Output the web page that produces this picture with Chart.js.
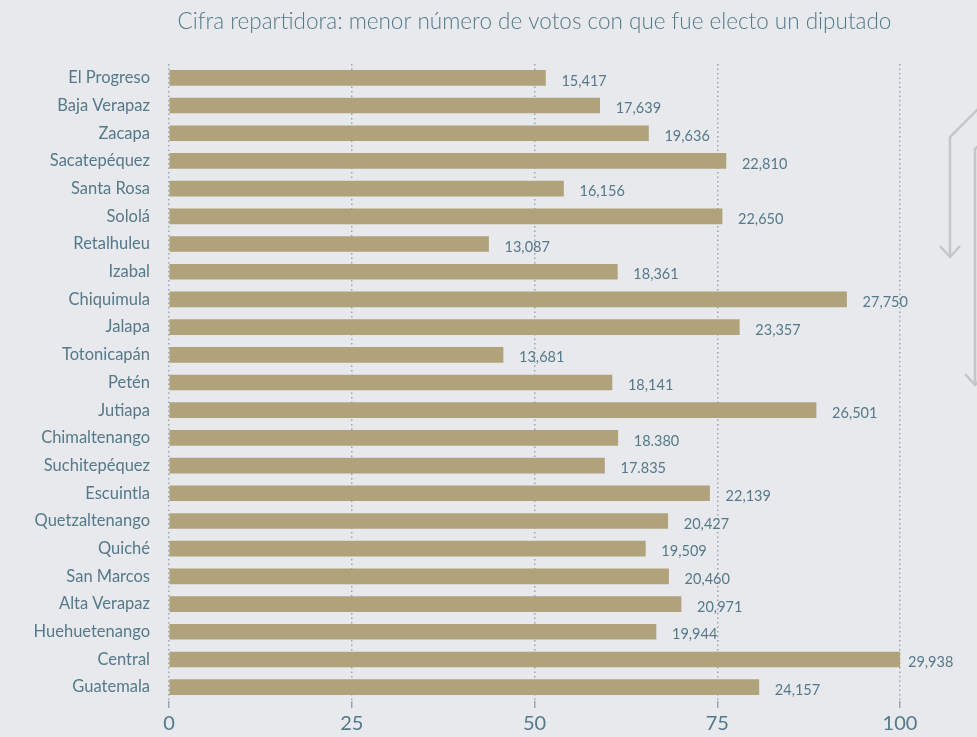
<!DOCTYPE html>
<html>
<head>
<meta charset="utf-8">
<script src="https://cdn.jsdelivr.net/npm/chart.js@4"></script>
<style>
  html, body { margin: 0; padding: 0; background: #e7e9ed; }
  #wrap { width: 977px; height: 737px; position: relative; }
</style>
</head>
<body>
<div id="wrap"><canvas id="barCanvas"></canvas></div>
<script>
const departamentos = [
  'El Progreso', 'Baja Verapaz', 'Zacapa', 'Sacatepéquez', 'Santa Rosa', 'Sololá',
  'Retalhuleu', 'Izabal', 'Chiquimula', 'Jalapa', 'Totonicapán', 'Petén', 'Jutiapa',
  'Chimaltenango', 'Suchitepéquez', 'Escuintla', 'Quetzaltenango', 'Quiché',
  'San Marcos', 'Alta Verapaz', 'Huehuetenango', 'Central', 'Guatemala'
];
const votos = [
  15417, 17639, 19636, 22810, 16156, 22650, 13087, 18361, 27750, 23357, 13681, 18141,
  26501, 18380, 17835, 22139, 20427, 19509, 20460, 20971, 19944, 29938, 24157
];
const etiquetas = [
  '15,417', '17,639', '19,636', '22,810', '16,156', '22,650', '13,087', '18,361',
  '27,750', '23,357', '13,681', '18,141', '26,501', '18.380', '17.835', '22,139',
  '20,427', '19,509', '20,460', '20,971', '19,944', '29,938', '24,157'
];
const ticksPct = ['0', '25', '50', '75', '100'];

const maxVotos = Math.max(...votos);
const textColor = '#557989';
const fontName = 'Lato, "Open Sans", sans-serif';

// value labels to the right of each bar
const valueLabels = {
  id: 'valueLabels',
  afterDatasetsDraw(chart) {
    const ctx = chart.ctx;
    const meta = chart.getDatasetMeta(0);
    ctx.save();
    ctx.font = '14.5px ' + fontName;
    ctx.fillStyle = textColor;
    ctx.textBaseline = 'middle';
    ctx.textAlign = 'left';
    meta.data.forEach((bar, i) => {
      const gap = votos[i] === maxVotos ? 8 : 16;
      ctx.fillText(etiquetas[i], bar.x + gap, bar.y + 3);
    });
    ctx.restore();
  }
};

// grey arrows running off the right edge
const sideArrows = {
  id: 'sideArrows',
  afterDraw(chart) {
    const ctx = chart.ctx;
    ctx.save();
    ctx.strokeStyle = '#c4c6c9';
    ctx.lineWidth = 2.5;
    ctx.beginPath();
    ctx.moveTo(980, 107);
    ctx.lineTo(950, 137);
    ctx.lineTo(950, 257);
    ctx.moveTo(940, 246);
    ctx.lineTo(950, 257);
    ctx.lineTo(960, 246);
    ctx.moveTo(980, 144);
    ctx.lineTo(975, 149);
    ctx.lineTo(975, 385);
    ctx.moveTo(965, 374);
    ctx.lineTo(975, 385);
    ctx.lineTo(985, 374);
    ctx.stroke();
    ctx.restore();
  }
};

document.addEventListener('DOMContentLoaded', function() {
  const barCanvas = document.getElementById('barCanvas');
  new Chart(barCanvas, {
    type: 'bar',
    data: {
      labels: departamentos,
      datasets: [{
        data: votos,
        backgroundColor: '#b0a27a',
        barThickness: 15
      }]
    },
    options: {
      indexAxis: 'y',
      responsive: true,
      maintainAspectRatio: false,
      animation: false,
      layout: { padding: { left: 0, right: 77, top: 0, bottom: 0 } },
      plugins: {
        legend: { display: false },
        tooltip: { enabled: false },
        title: {
          display: true,
          fullSize: false,
          text: 'Cifra repartidora: menor número de votos con que fue electo un diputado',
          color: textColor,
          font: { family: fontName, size: 22.5, weight: '300' },
          padding: { top: 8, bottom: 29 }
        }
      },
      scales: {
        x: {
          min: 0,
          max: maxVotos,
          afterBuildTicks(axis) {
            axis.ticks = ticksPct.map((t, i) => ({ value: maxVotos * i / (ticksPct.length - 1) }));
          },
          afterFit(axis) { axis.height = 36; },
          grid: {
            color: '#97a5b4',
            lineWidth: 1.5,
            tickLength: 7
          },
          border: { display: false, dash: [1.5, 3] },
          ticks: {
            color: textColor,
            padding: 4,
            font: { family: fontName, size: 20 },
            callback: (v, i) => ticksPct[i]
          }
        },
        y: {
          afterFit(axis) { axis.width = 169; },
          border: { display: false },
          grid: { display: false, drawTicks: false },
          ticks: {
            color: textColor,
            padding: 19,
            font: { family: fontName, size: 16.5 }
          }
        }
      }
    },
    plugins: [valueLabels, sideArrows]
  });
});
</script>
</body>
</html>
